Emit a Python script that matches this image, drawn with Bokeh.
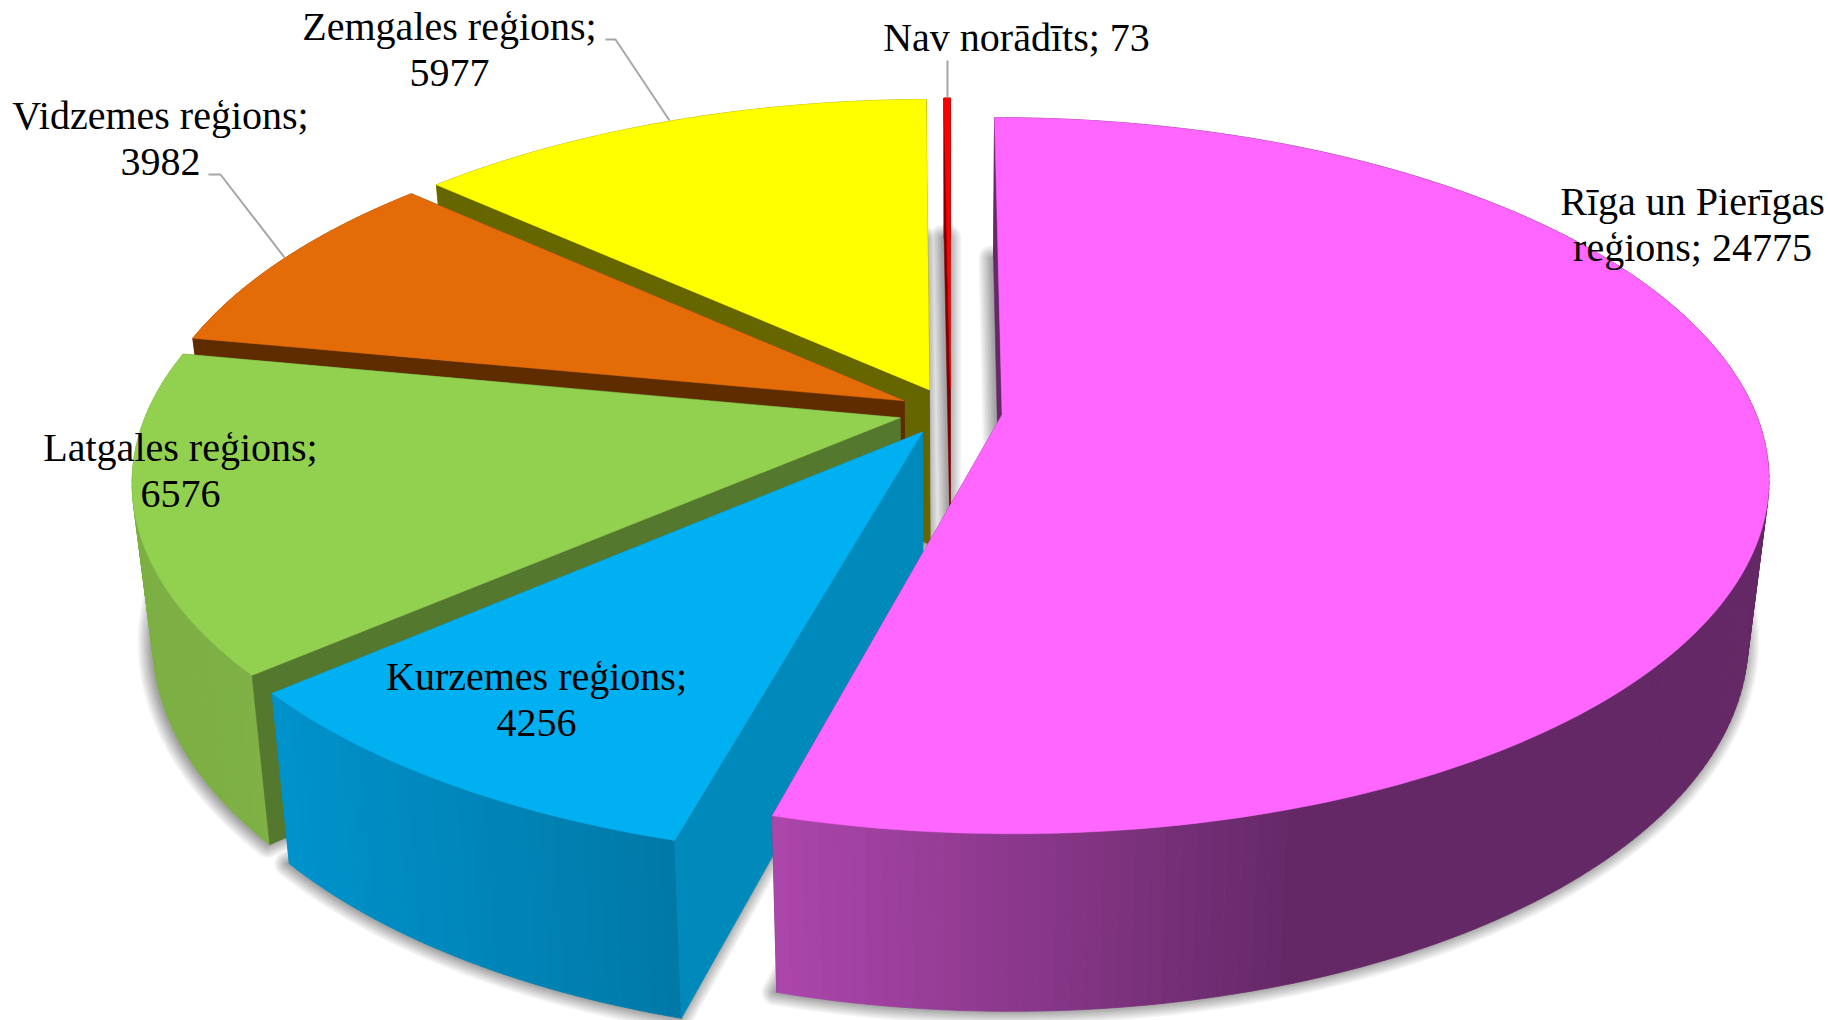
import numpy as np
from bokeh.plotting import figure
from bokeh.models import Range1d
from bokeh.core.properties import value
from bokeh.embed import file_html
from bokeh.resources import INLINE

# ---- data, in the chart's clockwise order from twelve o'clock
categories = ["Rīga un Pierīgas reģions", "Kurzemes reģions", "Latgales reģions",
              "Vidzemes reģions", "Zemgales reģions", "Nav norādīts"]
values = [24775, 4256, 6576, 3982, 5977, 73]

# ---- styling
top_colors = ["#FF66FF", "#00B0F0", "#92D050", "#E36C09", "#FFFF00", "#FF0000"]
cut_colors = ["#652A66", "#008ABC", "#54782E", "#5F2C00", "#666600", "#7F0000"]
side_left = ["#AC46AC", "#0092CB", "#7DB044", "#A85008", "#999900", "#7F0000"]
side_right = ["#642866", "#0078A6", "#7FB146", "#A85008", "#999900", "#7F0000"]

label_lines = {
    "Rīga un Pierīgas reģions": (["Rīga un Pierīgas", "reģions; 24775"], 1692, [201, 247]),
    "Kurzemes reģions": (["Kurzemes reģions;", "4256"], 536, [676, 722]),
    "Latgales reģions": (["Latgales reģions;", "6576"], 180, [447, 493]),
    "Vidzemes reģions": (["Vidzemes reģions;", "3982"], 160, [115, 161]),
    "Zemgales reģions": (["Zemgales reģions;", "5977"], 449, [26, 72]),
    "Nav norādīts": (["Nav norādīts; 73"], 1016, [37]),
}
leaders = [([605, 615, 669], [39, 39, 120]), ([208, 220, 284], [174, 174, 257]), ([947, 947], [60, 97])]

# ---- projection of the tilted, exploded pie onto the page
X0, Y0, R, A, K, Z, ZS, EXPLODE = 950.0, 411.0, 753.0, 346.6, 0.17, 160.0, 0.026, 0.069


def project(u, v, z):
    u, v = np.asarray(u, float), np.asarray(v, float)
    d = (1 + K * v) * (1 + ZS * z)
    return X0 + R * u / d, Y0 + (-A * v + Z * z) / d


def mix(c1, c2, t):
    a = [int(c1[i:i + 2], 16) for i in (1, 3, 5)]
    b = [int(c2[i:i + 2], 16) for i in (1, 3, 5)]
    return "#%02x%02x%02x" % tuple(int(round(x + (y - x) * t)) for x, y in zip(a, b))


p = figure(width=1831, height=1020, output_backend="svg", toolbar_location=None,
           x_range=Range1d(0, 1831), y_range=Range1d(1020, 0), min_border=0)
p.axis.visible = False
p.grid.visible = False
p.outline_line_color = None
p.background_fill_color = "#ffffff"

angles = np.cumsum([0] + values) / sum(values) * 2 * np.pi
slices = []
for i in range(len(values)):
    a0, a1 = angles[i], angles[i + 1]
    mid = (a0 + a1) / 2
    cu, cv = EXPLODE * np.sin(mid), EXPLODE * np.cos(mid)
    th = np.linspace(a0, a1, max(3, int((a1 - a0) / np.radians(1.0))))
    slices.append((cu, cv, th, cu + np.sin(th), cv + np.cos(th)))

# soft shadow: dilated footprint of every slice, lightest band first
widths = [26, 23, 20, 17, 14, 11, 8, 5, 2]
for j, lw in enumerate(widths):
    col = mix("#f4f4f4", "#a5a5a5", j / (len(widths) - 1))
    xs, ys = [], []
    for cu, cv, th, u, v in slices:
        x, y = project(np.r_[cu, u], np.r_[cv, v], 1.0)
        xs.append(list(x - 2))
        ys.append(list(y))
    p.patches(xs, ys, fill_color=col, line_color=col, line_width=lw, line_join="round")

# slices, back to front
for i in [5, 4, 3, 2, 1, 0]:
    cu, cv, th, u, v = slices[i]
    xt, yt = project(u, v, 0.0)
    xb, yb = project(u, v, 1.0)
    cxt, cyt = project(cu, cv, 0.0)
    cxb, cyb = project(cu, cv, 1.0)

    # hidden cut face
    p.patch([cxt, xt[-1], xb[-1], cxb], [cyt, yt[-1], yb[-1], cyb],
            fill_color=cut_colors[i], line_color=cut_colors[i], line_width=0.5)

    # outer wall, shaded along the page
    xs, ys, cols = [], [], []
    x_lo, x_hi = (775, 1300) if i == 0 else (280, 680) if i == 1 else (140, 270)
    for n in range(len(th) - 1):
        xs.append([xt[n], xt[n + 1], xb[n + 1], xb[n]])
        ys.append([yt[n], yt[n + 1], yb[n + 1], yb[n]])
        t = np.clip(((xt[n] + xt[n + 1]) / 2 - x_lo) / (x_hi - x_lo), 0, 1)
        cols.append(mix(side_left[i], side_right[i], t))
    p.patches(xs, ys, fill_color=cols, line_color=cols, line_width=0.8)

    # visible cut face
    p.patch([cxt, xt[0], xb[0], cxb], [cyt, yt[0], yb[0], cyb],
            fill_color=cut_colors[i], line_color=cut_colors[i], line_width=0.5)

    # top
    p.patch(np.r_[cxt, xt], np.r_[cyt, yt], fill_color=top_colors[i],
            line_color=top_colors[i], line_width=0.5)

# leader lines
for lx, ly in leaders:
    p.line(lx, ly, line_color="#A6A6A6", line_width=2)

# data labels
for cat in categories:
    lines, cx, baselines = label_lines[cat]
    p.text(x=[cx] * len(lines), y=baselines, text=lines, text_align="center",
           text_baseline="alphabetic", text_font=value("Liberation Serif"),
           text_font_size="40px", text_color="#000000")

open("out.html", "w").write(file_html(p, INLINE))
